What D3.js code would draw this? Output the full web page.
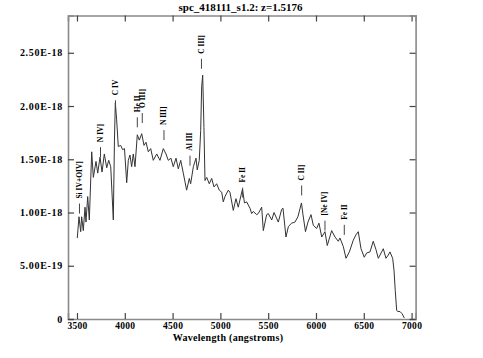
<!DOCTYPE html>
<html>
<head>
<meta charset="utf-8">
<script src="https://cdnjs.cloudflare.com/ajax/libs/d3/7.8.5/d3.min.js"></script>
<style>
  body { margin: 0; background: #fff; }
  text { font-family: "Liberation Serif", "DejaVu Serif", serif; font-weight: bold; fill: #000; }
</style>
</head>
<body>
<div id="chart"></div>
<script>
// spectrum: wavelength (angstroms) and flux (x 1e-18)
var wavelength = [3503, 3521, 3539, 3549, 3566, 3584, 3594, 3612, 3629, 3654,
  3671, 3699, 3717, 3741, 3762, 3786, 3811, 3832, 3853, 3880,
  3892, 3901, 3915, 3932, 3957, 3978, 3997, 4020, 4037, 4054,
  4072, 4089, 4107, 4131, 4152, 4177, 4201, 4222, 4246, 4271,
  4298, 4334, 4368, 4403, 4431, 4455, 4483, 4507, 4536, 4560,
  4585, 4612, 4647, 4675, 4689, 4717, 4745, 4758, 4779, 4794,
  4804, 4815, 4828, 4839, 4857, 4884, 4909, 4933, 4961, 4988,
  5014, 5030, 5048, 5083, 5100, 5135, 5163, 5187, 5231, 5252,
  5275, 5292, 5310, 5327, 5344, 5380, 5396, 5432, 5449, 5484,
  5501, 5537, 5561, 5606, 5641, 5655, 5686, 5712, 5746, 5780,
  5811, 5848, 5864, 5890, 5916, 5948, 5972, 6007, 6031, 6060,
  6094, 6118, 6164, 6199, 6233, 6251, 6286, 6314, 6349, 6390,
  6418, 6442, 6471, 6505, 6530, 6565, 6599, 6628, 6652, 6687,
  6704, 6732, 6756, 6774, 6802, 6816, 6829, 6844, 6858, 6879,
  6900, 6924];
var flux = [0.76, 0.96, 0.82, 0.96, 0.83, 1.05, 0.91, 1.15, 0.93, 1.57,
  1.33, 1.48, 1.37, 1.52, 1.38, 1.55, 1.42, 1.49, 1.43, 0.93,
  1.68, 2.03, 1.87, 1.62, 1.63, 1.59, 1.60, 1.28, 1.49, 1.54,
  1.43, 1.55, 1.43, 1.73, 1.68, 1.74, 1.63, 1.66, 1.57, 1.60,
  1.49, 1.55, 1.49, 1.60, 1.55, 1.49, 1.51, 1.43, 1.51, 1.41,
  1.49, 1.37, 1.21, 1.32, 1.27, 1.43, 1.51, 1.40, 1.49, 1.77,
  2.18, 2.29, 1.80, 1.30, 1.33, 1.27, 1.32, 1.24, 1.27, 1.21,
  1.19, 1.10, 1.15, 1.21, 1.19, 1.02, 1.13, 1.05, 1.22, 1.09,
  1.10, 1.07, 1.04, 0.99, 1.01, 0.98, 0.99, 1.05, 0.83, 0.98,
  0.99, 0.93, 1.00, 0.91, 1.03, 1.04, 0.77, 0.87, 0.90, 0.91,
  0.96, 1.09, 0.98, 0.82, 0.91, 0.98, 0.88, 0.85, 0.90, 0.77,
  0.82, 0.69, 0.83, 0.77, 0.73, 0.76, 0.68, 0.57, 0.63, 0.74,
  0.79, 0.82, 0.66, 0.58, 0.62, 0.63, 0.73, 0.65, 0.57, 0.63,
  0.66, 0.57, 0.60, 0.63, 0.57, 0.46, 0.27, 0.08, 0.07, 0.07,
  0.05, 0.01];

// emission line ids: name, observed wavelength, flux level at foot of marker (x 1e-18)
var lineNames = ["Si IV+OIV]", "N IV]", "C IV", "He II", "O III]", "N III]",
  "Al III", "C III]", "Fe II", "C II]", "[Ne IV]", "Fe II"];
var lineWave = [3526, 3746, 3903, 4131, 4183, 4410, 4682, 4802, 5233, 5850, 6094, 6296];
var lineLevel = [0.99, 1.52, 1.96, 1.80, 1.84, 1.68, 1.44, 2.35, 1.14, 1.16, 0.83, 0.79];

var xTicks = [3500, 4000, 4500, 5000, 5500, 6000, 6500, 7000];
var yTicks = [0, 5e-19, 1e-18, 1.5e-18, 2e-18, 2.5e-18];
var xDomain = [3406, 7042];
var yDomain = [0, 2.85e-18];
var title = "spc_418111_s1.2: z=1.5176";

var svgWidth = 483;
var svgHeight = 358;
var margin = { top: 15.5, right: 67.4, bottom: 39, left: 68 };
var width = svgWidth - margin.left - margin.right;
var height = svgHeight - margin.top - margin.bottom;

var svg = d3.select("#chart")
  .append("svg")
  .attr("width", svgWidth)
  .attr("height", svgHeight);

var chartGroup = svg.append("g")
  .attr("transform", `translate(${margin.left}, ${margin.top})`);

var xScale = d3.scaleLinear().domain(xDomain).range([0, width]);
var yScale = d3.scaleLinear().domain(yDomain).range([height, 0]);

function fmtY(v) {
  return v === 0 ? "0" : v.toExponential(2).toUpperCase();
}

// axes, ticks pointing inwards
var bottomAxis = d3.axisBottom(xScale).tickValues(xTicks).tickSize(-6).tickPadding(3).tickFormat(d3.format("d"));
var topAxis = d3.axisTop(xScale).tickValues(xTicks).tickSize(-6).tickFormat("");
var leftAxis = d3.axisLeft(yScale).tickValues(yTicks).tickSize(-6).tickPadding(5).tickFormat(fmtY);
var rightAxis = d3.axisRight(yScale).tickValues(yTicks).tickSize(-6).tickFormat("");

var gx = chartGroup.append("g").attr("class", "axis").attr("transform", `translate(0, ${height})`).call(bottomAxis);
chartGroup.append("g").attr("class", "axis").call(topAxis);
var gy = chartGroup.append("g").attr("class", "axis").call(leftAxis);
chartGroup.append("g").attr("class", "axis").attr("transform", `translate(${width}, 0)`).call(rightAxis);

chartGroup.selectAll(".axis path").attr("stroke", "#8a8a8a").attr("stroke-width", 1.6);
chartGroup.selectAll(".axis line").attr("stroke", "#444").attr("stroke-width", 1.2);
chartGroup.selectAll(".axis text")
  .style("font-family", "Liberation Serif")
  .style("font-weight", "bold")
  .attr("fill", "#000");
gx.selectAll("text").style("font-size", "9.5px").style("letter-spacing", "0.3px");
gy.selectAll("text").style("font-size", "10px").style("letter-spacing", "0.7px");

// spectrum
var points = wavelength.map((w, i) => [w, flux[i] * 1e-18]);
var line = d3.line()
  .x(d => xScale(d[0]))
  .y(d => yScale(d[1]));

chartGroup.append("path")
  .datum(points)
  .attr("d", line)
  .attr("fill", "none")
  .attr("stroke", "#333")
  .attr("stroke-width", 1);

// line identification markers
lineNames.forEach(function(name, i) {
  var lx = xScale(lineWave[i]);
  var ly = yScale(lineLevel[i] * 1e-18);
  chartGroup.append("line")
    .attr("x1", lx).attr("x2", lx)
    .attr("y1", ly).attr("y2", ly - 10)
    .attr("stroke", "#444")
    .attr("stroke-width", 1);
  chartGroup.append("text")
    .attr("transform", `translate(${lx + 2.5}, ${ly - 15}) rotate(-90)`)
    .style("font-size", "7.5px")
    .text(name);
});

// title and axis label
svg.append("text")
  .attr("x", 240.5)
  .attr("y", 11)
  .style("text-anchor", "middle")
  .style("font-size", "11px")
  .text(title);

svg.append("text")
  .attr("x", 228)
  .attr("y", 341)
  .style("text-anchor", "middle")
  .style("font-size", "10px")
  .style("letter-spacing", "0.3px")
  .text("Wavelength (angstroms)");
</script>
</body>
</html>
